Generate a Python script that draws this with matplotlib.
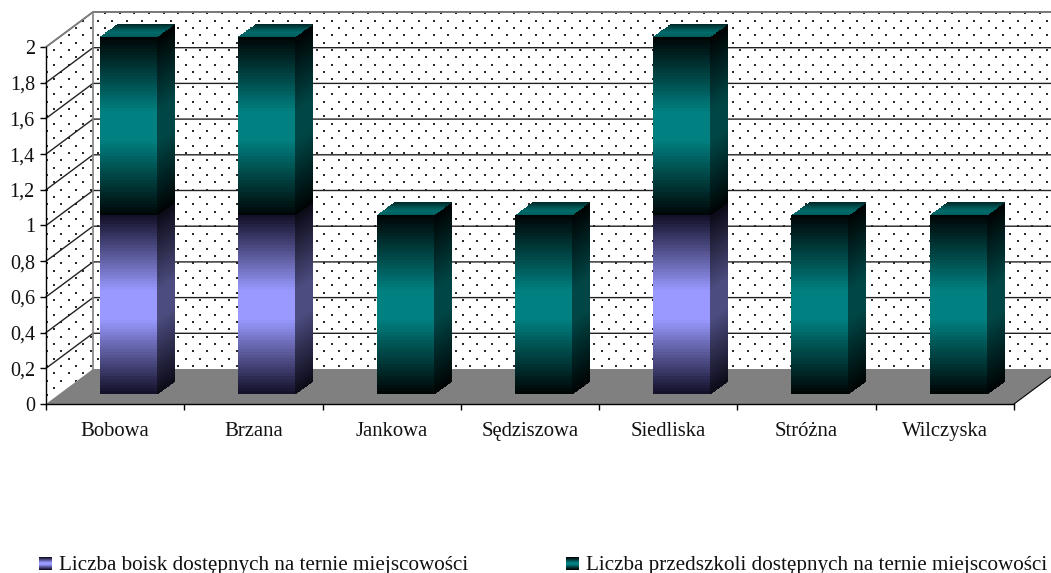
import numpy as np
import matplotlib
matplotlib.use('Agg')
import matplotlib.pyplot as plt
from matplotlib.colors import LinearSegmentedColormap
from matplotlib.patches import Polygon
from matplotlib.transforms import IdentityTransform

plt.rcParams['font.family'] = ['Liberation Serif', 'DejaVu Serif']

categories = ['Bobowa', 'Brzana', 'Jankowa', 'Sędziszowa', 'Siedliska', 'Stróżna', 'Wilczyska']
boiska = [1, 1, 0, 0, 1, 0, 0]
przedszkola = [1, 1, 1, 1, 1, 1, 1]
y_ticks = [0, 0.2, 0.4, 0.6, 0.8, 1, 1.2, 1.4, 1.6, 1.8, 2]
y_labels = ['0', '0,2', '0,4', '0,6', '0,8', '1', '1,2', '1,4', '1,6', '1,8', '2']
legend_labels = ['Liczba boisk dostępnych na ternie miejscowości',
                 'Liczba przedszkoli dostępnych na ternie miejscowości']

W, H = 1051, 573
# wall depth and bar placement, in data units
DX, DY = 47 / 138.3, 35 / 178.5
BAR_W = 57 / 138.3
SHIFT_X, SHIFT_Y = 13.4 / 138.3, 10 / 178.5
BAR_DX, BAR_DY = 18 / 138.3, 13 / 178.5


def ramp(name, dark, mid):
    stops = [(0, dark), (0.42, mid), (0.58, mid), (1, dark)]
    return LinearSegmentedColormap.from_list(name, stops)


teal = ramp('teal', '#000606', '#008080')
teal_side = ramp('teal_side', '#000404', '#004646')
purple = ramp('purple', '#14122a', '#9999ff')
purple_side = ramp('purple_side', '#0c0b18', '#4c4c80')
teal_top = LinearSegmentedColormap.from_list('teal_top', ['#005c5c', '#006a6a', '#005050', '#002a2a'])


def face(ax, X, Y, cmap, z):
    n = X.shape[0] - 1
    C = np.linspace(0, 1, n).reshape(-1, 1)
    ax.pcolormesh(X, Y, C, cmap=cmap, vmin=0, vmax=1, shading='flat',
                  antialiased=False, edgecolors='none', clip_on=False, zorder=z)


def bar3d(ax, i, bottom, height, cmap, cmap_side, z, top=False):
    n = 60
    x0 = i + 0.5 - BAR_W / 2 + SHIFT_X
    x1 = x0 + BAR_W
    y0 = bottom + SHIFT_Y
    y1 = y0 + height
    ys = np.linspace(y0, y1, n + 1)
    # side first, then the front
    X = np.tile([x1, x1 + BAR_DX], (n + 1, 1))
    Y = np.column_stack([ys, ys + BAR_DY])
    face(ax, X, Y, cmap_side, z)
    X = np.tile([x0, x1], (n + 1, 1))
    Y = np.column_stack([ys, ys])
    face(ax, X, Y, cmap, z + 0.1)
    if top:
        t = np.linspace(0, 1, 21)
        X = np.column_stack([x0 + t * BAR_DX, x1 + t * BAR_DX])
        Y = np.column_stack([y1 + t * BAR_DY, y1 + t * BAR_DY])
        face(ax, X, Y, teal_top, z + 0.2)


fig = plt.figure(figsize=(W / 100, H / 100), dpi=100, facecolor='white')
ax = fig.add_axes([46 / W, (H - 404) / H, 968 / W, 357 / H])
ax.set_xlim(0, 7)
ax.set_ylim(0, 2)
ax.patch.set_visible(False)

# walls with the dotted fill
walls = Polygon([(0, 0), (DX, DY), (7 + DX, DY), (7 + DX, 2 + DY), (DX, 2 + DY), (0, 2)],
                closed=True, fc='white', ec='none', clip_on=False, zorder=1)
ax.add_patch(walls)
gx, gy = np.meshgrid(np.arange(-6, 76), np.arange(0, 60))
dot_x = 90.6 + gx * 14.6 + ((gy + 1) % 2) * 7.3
dot_y = 13.3 + gy * 7.35 - 7.35
dots = ax.scatter(dot_x.ravel(), H - dot_y.ravel(), s=2.0, c='#2a2a2a', marker='s', linewidths=0,
                  transform=IdentityTransform(), zorder=2, clip_on=True)
dots.set_clip_path(walls)

# gridlines on both walls
for v in y_ticks[1:]:
    ax.plot([0, DX, 7 + DX], [v, v + DY, v + DY], color='#222222', lw=1.0, clip_on=False, zorder=3)

# wall outline and floor
ax.plot([0, DX, 7 + DX], [2, 2 + DY, 2 + DY], color='#808080', lw=1.2, clip_on=False, zorder=3)
ax.plot([DX, DX], [DY, 2 + DY], color='#808080', lw=1.2, clip_on=False, zorder=3)
ax.add_patch(Polygon([(0, 0), (DX, DY), (7 + DX, DY), (7, 0)], closed=True, fc='#808080',
                     ec='none', clip_on=False, zorder=4))
ax.plot([7, 7 + DX], [0, DY], color='black', lw=0.8, clip_on=False, zorder=4)

# bars
for i in range(len(categories)):
    z = 5 + i
    if boiska[i]:
        bar3d(ax, i, 0, boiska[i], purple, purple_side, z)
    bar3d(ax, i, boiska[i], przedszkola[i], teal, teal_side, z + 0.5, top=True)

for s in ['top', 'right']:
    ax.spines[s].set_visible(False)
for s in ['left', 'bottom']:
    ax.spines[s].set_linewidth(1.0)
    ax.spines[s].set_zorder(20)

ax.set_yticks(y_ticks)
ax.set_yticklabels(y_labels, fontsize=14.5, color='#111111')
ax.set_xticks(np.arange(0, 8))
ax.set_xticklabels([])
ax.set_xticks(np.arange(len(categories)) + 0.5, minor=True)
ax.set_xticklabels(categories, minor=True, fontsize=14.9, color='#111111')
ax.tick_params(axis='x', which='minor', length=0, pad=13)
ax.tick_params(axis='x', which='major', length=4, width=1)
ax.tick_params(axis='y', length=4, width=1, pad=4)

# legend swatches and texts along the bottom edge
for sx, cmap, label in [(39, purple, legend_labels[0]), (566, teal, legend_labels[1])]:
    sw = fig.add_axes([sx / W, (H - 570) / H, 13 / W, 13 / H])
    sw.imshow(np.linspace(0, 1, 13).reshape(-1, 1), cmap=cmap, aspect='auto')
    sw.axis('off')
    fig.text((sx + 20) / W, (H - 570) / H, label, fontsize=15.2, color='#111111', va='baseline')

fig.savefig('out.png', dpi=100)
plt.close(fig)
